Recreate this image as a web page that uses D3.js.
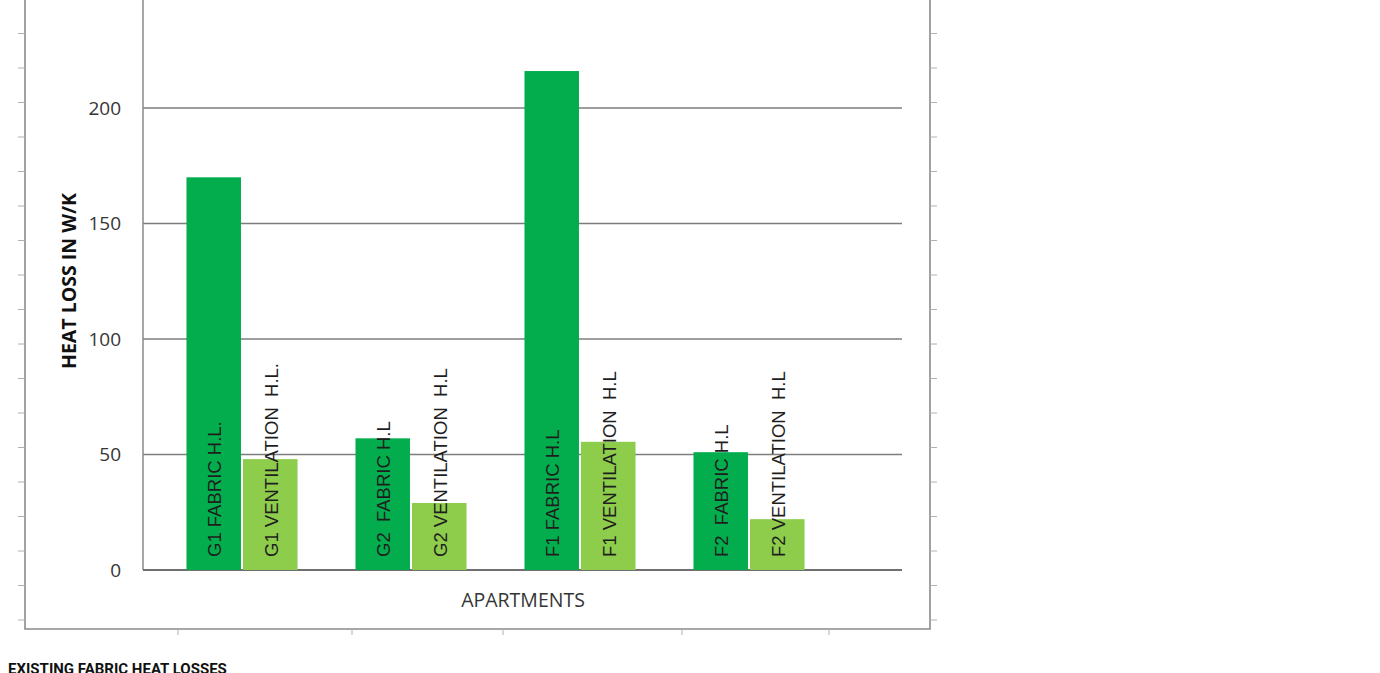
<!DOCTYPE html>
<html>
<head>
<meta charset="utf-8">
<script src="https://cdn.jsdelivr.net/npm/d3@7"></script>
<style>
  html, body { margin: 0; padding: 0; background: #ffffff; }
  svg { display: block; }
  text { white-space: pre; }
</style>
</head>
<body>
<svg id="chart" width="1380" height="673"></svg>
<script>
// ---- data ----
const groups = ["G1", "G2", "F1", "F2"];
const seriesKeys = ["fabric", "ventilation"];
const fabricValues = [170, 57, 216, 51];
const ventilationValues = [48, 29, 55.5, 22];
const fabricLabels = ["G1 FABRIC H.L.", "G2  FABRIC H.L", "F1 FABRIC H.L", "F2  FABRIC H.L"];
const ventilationLabels = ["G1 VENTILATION  H.L.", "G2 VENTILATION  H.L", "F1 VENTILATION  H.L", "F2 VENTILATION  H.L"];
const yTickValues = [0, 50, 100, 150, 200, 250];
const yTitle = "HEAT LOSS IN W/K";
const xTitle = "APARTMENTS";
const caption = "EXISTING FABRIC HEAT LOSSES";

const rows = groups.map((g, i) => ({
  group: g,
  bars: [
    { key: "fabric", value: fabricValues[i], label: fabricLabels[i] },
    { key: "ventilation", value: ventilationValues[i], label: ventilationLabels[i] }
  ]
}));

// ---- layout ----
const svg = d3.select("#chart");
const plotLeft = 143, plotRight = 902;
const colors = { fabric: "#03ad4d", ventilation: "#8ecc4c" };

const y = d3.scaleLinear().domain([0, 200]).range([570, 108]);
const x0 = d3.scaleBand().domain(groups).range([157.5, 833.5])
  .paddingInner(0.343).paddingOuter(0.1715);
const x1 = d3.scaleBand().domain(seriesKeys).range([0, x0.bandwidth()]).paddingInner(0.036);

// outer frame with ruler-like ticks
const frame = svg.append("g");
frame.append("path")
  .attr("d", "M25,-2 L25,629 L930,629 L930,-2")
  .attr("fill", "none").attr("stroke", "#8a8a8a").attr("stroke-width", 1.6);
const sideTicks = d3.range(-1, 629, 34.5);
frame.selectAll(".lt").data(sideTicks).join("line")
  .attr("x1", 18).attr("x2", 25).attr("y1", d => d).attr("y2", d => d)
  .attr("stroke", "#b0b0b0").attr("stroke-width", 1);
frame.selectAll(".rt").data(sideTicks).join("line")
  .attr("x1", 930).attr("x2", 937).attr("y1", d => d).attr("y2", d => d)
  .attr("stroke", "#b0b0b0").attr("stroke-width", 1);
const bottomTicks = [178, 352, 503, 682, 829];
frame.selectAll(".bt").data(bottomTicks).join("line")
  .attr("x1", d => d).attr("x2", d => d).attr("y1", 629).attr("y2", 635)
  .attr("stroke", "#b0b0b0").attr("stroke-width", 1);

// gridlines
svg.append("g").selectAll("line").data(yTickValues.filter(v => v > 0)).join("line")
  .attr("x1", plotLeft).attr("x2", plotRight)
  .attr("y1", d => y(d)).attr("y2", d => y(d))
  .attr("stroke", "#7d7d7d").attr("stroke-width", 1.5);

// plot-area left border
svg.append("line")
  .attr("x1", plotLeft).attr("x2", plotLeft).attr("y1", -2).attr("y2", y(0))
  .attr("stroke", "#8a8a8a").attr("stroke-width", 1.5);

// y axis labels
const yAxis = d3.axisLeft(y).tickValues(yTickValues).tickSize(0).tickPadding(0);
const yg = svg.append("g").attr("transform", "translate(121,0)").call(yAxis);
yg.select(".domain").remove();
yg.selectAll("text")
  .attr("font-family", "'Open Sans', sans-serif")
  .attr("font-size", 19).attr("fill", "#353535");

// baseline
svg.append("line")
  .attr("x1", plotLeft).attr("x2", plotRight).attr("y1", y(0)).attr("y2", y(0))
  .attr("stroke", "#707070").attr("stroke-width", 2);

// bars
const gGroups = svg.append("g").selectAll("g").data(rows).join("g")
  .attr("transform", d => `translate(${x0(d.group)},0)`);
gGroups.selectAll("rect").data(d => d.bars).join("rect")
  .attr("x", d => x1(d.key))
  .attr("width", x1.bandwidth())
  .attr("y", d => y(d.value))
  .attr("height", d => y(0) - y(d.value))
  .attr("fill", d => colors[d.key]);

// rotated labels inside bars
gGroups.selectAll("text").data(d => d.bars).join("text")
  .attr("transform", d => `translate(${x1(d.key) + x1.bandwidth() / 2 + 1},557) rotate(-90)`)
  .attr("dy", "0.36em")
  .attr("text-anchor", "start")
  .attr("font-family", "'Liberation Sans', Arial, sans-serif")
  .attr("font-size", 18.5)
  .attr("fill", "#1e1e1e")
  .text(d => d.label);

// axis titles
svg.append("text")
  .attr("transform", "translate(69,281) rotate(-90)")
  .attr("text-anchor", "middle").attr("dy", "0.36em")
  .attr("font-family", "'Open Sans', sans-serif")
  .attr("font-weight", "bold").attr("font-size", 19.5)
  .attr("fill", "#111")
  .text(yTitle);

svg.append("text")
  .attr("x", 523).attr("y", 600)
  .attr("text-anchor", "middle").attr("dy", "0.36em")
  .attr("font-family", "'Open Sans', sans-serif")
  .attr("font-size", 19.5).attr("fill", "#353535")
  .text(xTitle);

// caption (cut at the bottom edge)
svg.append("text")
  .attr("x", 8).attr("y", 674)
  .attr("font-family", "Roboto, sans-serif")
  .attr("font-weight", "bold").attr("font-size", 15)
  .attr("fill", "#111")
  .text(caption);
</script>
</body>
</html>
